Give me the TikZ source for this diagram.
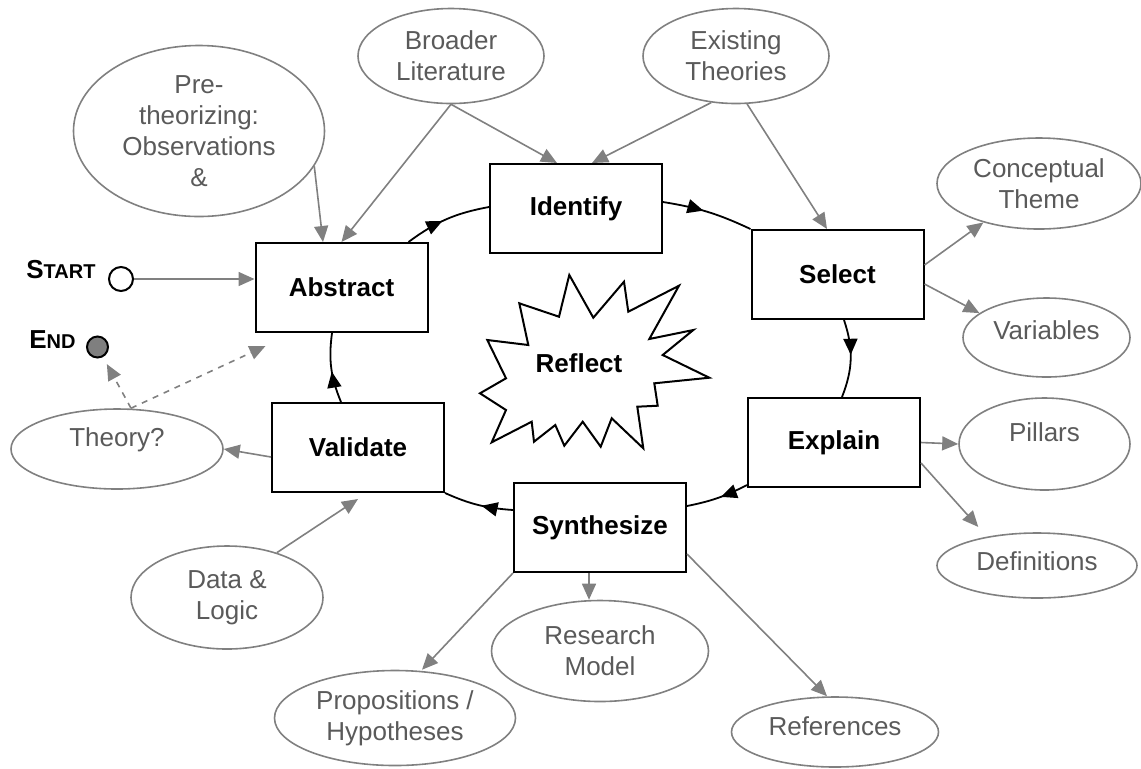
\documentclass[tikz,border=0pt]{standalone}
\usepackage{fontspec}
\setmainfont{Liberation Sans}
\usetikzlibrary{shapes.geometric, arrows.meta, decorations.markings}

\definecolor{ellgray}{HTML}{808080}
\definecolor{txtgray}{HTML}{5A5A5A}
\definecolor{lngray}{HTML}{808080}
\definecolor{endgray}{HTML}{7F7F7F}

\tikzset{
	stepbox/.style={rectangle, draw=black, line width=1pt, minimum width=86pt, minimum height=44.5pt, inner sep=0pt, font=\fontsize{13}{15.5}\selectfont\bfseries},
	bubble/.style={ellipse, draw=ellgray, line width=0.8pt, text=txtgray, align=center, inner sep=0pt, font=\fontsize{13}{15.5}\selectfont},
	raised/.style={text depth=#1},
	feed/.style={draw=lngray, line width=0.8pt, -{Triangle[length=8pt,width=7pt]}},
	loopedge/.style={draw=black, line width=0.9pt, postaction={decorate}, decoration={markings, mark=at position 0.45 with {\arrow{Triangle[length=8pt,width=7pt]}}}},
}

\begin{document}
\begin{tikzpicture}[x=0.5pt, y=0.5pt]
		
		\useasboundingbox (0,0) rectangle (1141,-768);
		
		% Steps
		
		\node[stepbox] 
		(abstract) at (341.5,-287.5) {Abstract};
		\node[stepbox] 
		(identify) at (576,-208.5) {Identify};
		\node[stepbox] 
		(select) at (837.5,-274.5) {Select};
		\node[stepbox] 
		(explain) at (834,-442.5) {Explain};
		\node[stepbox] 
		(synth) at (600,-527.5) {Synthesize};
		\node[stepbox] 
		(validate) at (358,-447.5) {Validate};
		
		% Reflect
		
		\draw[line width=1pt] (569.3,-275) -- (593.3,-317.7) -- (624,-281.7) -- (628.3,-311.7)
			-- (679,-285.7) -- (649.3,-339) -- (693.3,-330) -- (662.7,-355) -- (709.3,-377.7)
			-- (654.3,-383.3) -- (657.7,-405.7) -- (637.3,-406.7) -- (643.3,-448.3) -- (611.7,-418.3)
			-- (600.7,-446.7) -- (582.7,-421.7) -- (564.3,-445.7) -- (555.3,-425) -- (534,-441.7)
			-- (531.7,-421.7) -- (491.7,-442.3) -- (506,-410) -- (480,-393.3) -- (506,-378.3)
			-- (487.3,-340) -- (528.3,-345) -- (519.3,-303.3) -- (559,-316.7) -- cycle;
		\node[font=\fontsize{13}{15.5}\selectfont\bfseries] 
		(reflect) at (579,-363) {Reflect};
		
		% Inputs and outputs
		
		\node[bubble, minimum width=125.5pt, minimum height=85.5pt] 
		(pre) at (199,-131) {Pre-\\theorizing:\\Observations\\\&};
		\node[bubble, minimum width=93pt, minimum height=47.5pt] 
		(broader) at (451,-56) {Broader\\Literature};
		\node[bubble, minimum width=93pt, minimum height=47.5pt] 
		(existing) at (736,-56) {Existing\\Theories};
		\node[bubble, minimum width=102pt, minimum height=45.5pt] 
		(concept) at (1039,-183.5) {Conceptual\\Theme};
		\node[bubble, raised=7pt, minimum width=83.5pt, minimum height=39.5pt] 
		(vars) at (1046.5,-337.5) {Variables};
		\node[bubble, raised=12pt, minimum width=85.5pt, minimum height=46pt] 
		(pillars) at (1044.5,-444) {Pillars};
		\node[bubble, raised=4pt, minimum width=100pt, minimum height=32.5pt] 
		(defs) at (1037,-565.5) {Definitions};
		\node[bubble, raised=6pt, minimum width=103.5pt, minimum height=35pt] 
		(refs) at (835,-732) {References};
		\node[bubble, minimum width=108.5pt, minimum height=50.5pt] 
		(research) at (600,-651) {Research\\Model};
		\node[bubble, minimum width=120.5pt, minimum height=47.5pt] 
		(props) at (395,-718) {Propositions /\\Hypotheses};
		\node[bubble, minimum width=96pt, minimum height=51.5pt] 
		(data) at (227,-597.5) {Data \&\\Logic};
		\node[bubble, raised=11.5pt, minimum width=106pt, minimum height=40pt] 
		(theory) at (117,-449) {Theory?};
		
		% Start and end
		
		\node[circle, draw, line width=1pt, minimum size=12pt, inner sep=0pt] 
		(startc) at (121,-279) {};
		\node[circle, draw, line width=1pt, fill=endgray, minimum size=10.5pt, inner sep=0pt] 
		(endc) at (97.5,-347) {};
		\node[anchor=base west, font=\bfseries, inner sep=0pt] 
		(startlbl) at (26,-278) {{\fontsize{13}{15}\selectfont S}{\fontsize{10}{12}\selectfont TART}};
		\node[anchor=base west, font=\bfseries, inner sep=0pt] 
		(endlbl) at (29,-348) {{\fontsize{13}{15}\selectfont E}{\fontsize{10}{12}\selectfont ND}};
		
		% Cycle
		
		\draw[loopedge] ([xshift=-10pt]abstract.north east) to[bend left=13] ([yshift=0.75pt]identify.west);
		\draw[loopedge] ([yshift=3.25pt]identify.east) to[bend left=8] (select.north west);
		\draw[loopedge] ([xshift=3.25pt]select.south) to[bend left=20] ([xshift=4pt]explain.north);
		\draw[loopedge] ([yshift=1.5pt]explain.south west) to[bend left=8] ([yshift=10.75pt]synth.east);
		\draw[loopedge] ([yshift=8.75pt]synth.west) to[bend left=10] (validate.south east);
		\draw[loopedge] ([xshift=-8.5pt]validate.north) to[bend left=15] ([xshift=-4.75pt]abstract.south);
		
		% Feeds
		
		\draw[feed] (pre.-17) -- ([xshift=-9.25pt]abstract.north);
		\draw[feed] (broader.south) -- (abstract.north);
		\draw[feed] (broader.south) -- ([xshift=-9.5pt]identify.north);
		\draw[feed] (existing.-118) -- ([xshift=8pt]identify.north);
		\draw[feed] (existing.-77) -- ([xshift=-5.25pt]select.north);
		\draw[feed] (startc.east) -- (startc.east -| abstract.west);
		\draw[feed] ([yshift=4.75pt]select.east) -- (concept.-145);
		\draw[feed] ([yshift=-4.75pt]select.east) -- (vars.160);
		\draw[feed] (explain.east) -- (pillars.west);
		\draw[feed, shorten >=6.5pt] ([yshift=-10.25pt]explain.east) -- (defs.150);
		\draw[feed] ([xshift=-5.5pt]synth.south) -- ([xshift=-5.5pt]research.north);
		\draw[feed] ([yshift=9.5pt]synth.south east) -- ([xshift=-4pt]refs.north);
		\draw[feed] (synth.south west) -- ([xshift=13.5pt]props.north);
		\draw[feed] (data.42) -- ([yshift=-3pt]validate.south);
		\draw[feed] ([yshift=-4.75pt]validate.west) -- (theory.east);
		
		% Theory?
		
		\coordinate (tq) at ([xshift=7pt]theory.north);
		\draw[feed, dashed, shorten >=4pt] (tq) -- (endc);
		\draw[feed, dashed] (tq) -- ([xshift=5.5pt,yshift=-6.5pt]abstract.south west);
		
\end{tikzpicture}
\end{document}
